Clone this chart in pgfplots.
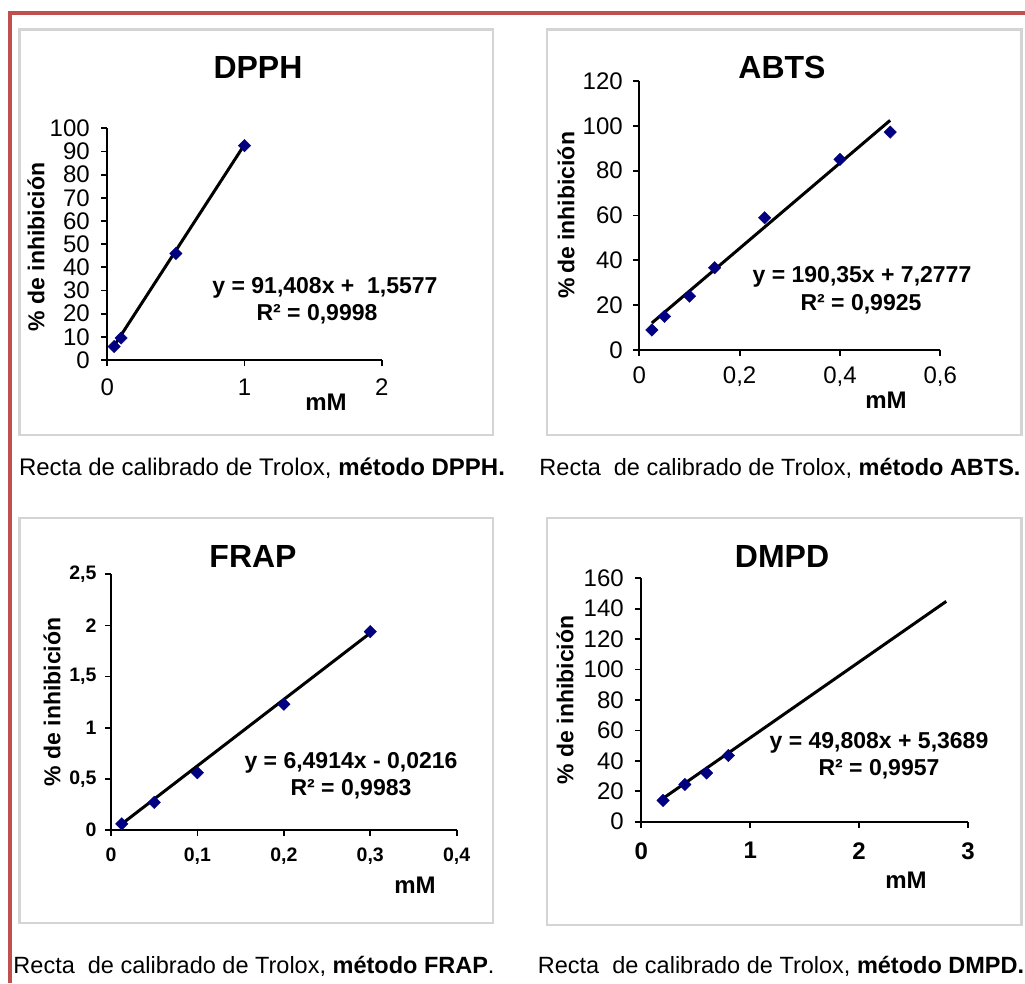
\documentclass[border=0pt]{standalone}
\usepackage{fontspec}
\setmainfont{Liberation Sans}
\usepackage{pgfplots}
\pgfplotsset{compat=1.18}

\definecolor{redframe}{RGB}{192,80,77}
\definecolor{boxgray}{RGB}{212,212,212}
\definecolor{navy}{RGB}{0,0,128}
\newcommand{\fs}[1]{\fontsize{#1}{#1}\selectfont}

\pgfplotsset{
  excel/.style={
    scale only axis, axis lines=left,
    axis line style={-, line width=1.8pt, black},
    tick align=outside, major tick length=6pt,
    tick style={line width=1.8pt, black},
    xmin=0, ymin=0, anchor=south west, clip=false,
    /pgf/number format/assume math mode=true,
    /pgf/number format/use comma,
    /pgf/number format/1000 sep={},
    tick label style={font=\fs{24}, text=black},
  },
  trend/.style={black, line width=3pt, no marks},
  pts/.style={only marks, mark=square*, mark size=4.4pt,
    mark options={rotate=45, fill=navy, draw=navy}},
}

\begin{document}
\begin{tikzpicture}
\path[use as bounding box] (0,0) rectangle (1025pt,-983pt);
% outer red frame
\draw[redframe, line width=4pt] (9.5pt,-983pt) -- (9.5pt,-12.5pt) -- (1025pt,-12.5pt);
% gray chart frames
\draw[boxgray, line width=2.5pt] (19.5pt,-29.3pt) rectangle (493pt,-435pt);
\draw[boxgray, line width=2.5pt] (547pt,-29.3pt) rectangle (1021.3pt,-435pt);
\draw[boxgray, line width=2.5pt] (19.5pt,-518pt) rectangle (493pt,-923pt);
\draw[boxgray, line width=2.5pt] (547pt,-518pt) rectangle (1021.3pt,-925pt);

% ---------------- DPPH ----------------
\begin{axis}[excel, at={(107.3pt,-360pt)}, width=274.4pt, height=231.7pt,
  xmax=2, ymax=100, xtick={0,1,2}, ytick={0,10,20,30,40,50,60,70,80,90,100},
  xticklabel style={yshift=-9pt}, yticklabel style={xshift=-8pt}]
\addplot[trend] coordinates {(0.05,6.13) (1.0,92.97)};
\addplot[pts] coordinates {(0.05,5.8) (0.1,9.5) (0.5,46) (1.0,92.5)};
\end{axis}
\node[font=\bfseries\fs{32}, anchor=base] at (258pt,-78pt) {DPPH};
\node[font=\bfseries\fs{23}, rotate=90] at (36pt,-247pt) {\% de inhibición};
\node[font=\bfseries\fs{23}, anchor=base] at (325pt,-293pt) {y = 91,408x +\ \ 1,5577};
\node[font=\bfseries\fs{23}, anchor=base] at (317pt,-320pt) {R² = 0,9998};
\node[font=\bfseries\fs{24}, anchor=base] at (326pt,-410pt) {mM};
\node[font=\fs{24}, anchor=base] at (262pt,-475pt) {Recta de calibrado de Trolox, \textbf{método DPPH.}};

% ---------------- ABTS ----------------
\begin{axis}[excel, at={(639.3pt,-350pt)}, width=301pt, height=269pt,
  xmax=0.6, ymax=120, xtick={0,0.2,0.4,0.6}, ytick={0,20,40,60,80,100,120},
  xticklabel style={yshift=-7pt}, yticklabel style={xshift=-7pt}]
\addplot[trend] coordinates {(0.025,12.04) (0.5,102.45)};
\addplot[pts] coordinates {(0.025,8.9) (0.05,15) (0.1,24) (0.15,36.7) (0.25,59) (0.4,85) (0.5,97.2)};
\end{axis}
\node[font=\bfseries\fs{32}, anchor=base] at (782pt,-78pt) {ABTS};
\node[font=\bfseries\fs{23}, rotate=90] at (566pt,-215pt) {\%\,de inhibición};
\node[font=\bfseries\fs{23}, anchor=base] at (862pt,-282pt) {y = 190,35x + 7,2777};
\node[font=\bfseries\fs{23}, anchor=base] at (861pt,-310pt) {R² = 0,9925};
\node[font=\bfseries\fs{24}, anchor=base] at (886pt,-408pt) {mM};
\node[font=\fs{23.5}, anchor=base] at (780pt,-475pt) {Recta\ \ de calibrado de Trolox, \textbf{método ABTS.}};

% ---------------- FRAP ----------------
\begin{axis}[excel, at={(111pt,-830pt)}, width=345.7pt, height=255.7pt,
  xmax=0.4, ymax=2.5, xtick={0,0.1,0.2,0.3,0.4}, ytick={0,0.5,1,1.5,2,2.5},
  tick label style={font=\bfseries\fs{19.5}},
  xticklabel style={yshift=-8pt}, yticklabel style={xshift=-5pt}]
\addplot[trend] coordinates {(0.0125,0.0595) (0.3,1.926)};
\addplot[pts] coordinates {(0.0125,0.06) (0.05,0.27) (0.1,0.56) (0.2,1.23) (0.3,1.94)};
\end{axis}
\node[font=\bfseries\fs{32}, anchor=base] at (253pt,-567pt) {FRAP};
\node[font=\bfseries\fs{23}, rotate=90] at (52pt,-702pt) {\% de inhibición};
\node[font=\bfseries\fs{23}, anchor=base] at (351pt,-768pt) {y = 6,4914x - 0,0216};
\node[font=\bfseries\fs{23}, anchor=base] at (351pt,-795pt) {R² = 0,9983};
\node[font=\bfseries\fs{24}, anchor=base] at (415pt,-893pt) {mM};
\node[font=\fs{23.5}, anchor=base] at (254pt,-973pt) {Recta\ \ de calibrado de Trolox, \textbf{método FRAP}.};

% ---------------- DMPD ----------------
\begin{axis}[excel, at={(641.3pt,-821.7pt)}, width=326.7pt, height=243.4pt,
  xmax=3, ymax=160, xtick={0,1,2,3}, ytick={0,20,40,60,80,100,120,140,160},
  xticklabel style={font=\bfseries\fs{24}, yshift=-11pt}, yticklabel style={xshift=-8pt}]
\addplot[trend] coordinates {(0.2,15.33) (2.8,144.83)};
\addplot[pts] coordinates {(0.2,14) (0.4,24.5) (0.6,32) (0.8,43.5)};
\end{axis}
\node[font=\bfseries\fs{32}, anchor=base] at (782pt,-567pt) {DMPD};
\node[font=\bfseries\fs{23}, rotate=90] at (565pt,-700pt) {\% de inhibición};
\node[font=\bfseries\fs{23}, anchor=base] at (879pt,-748pt) {y = 49,808x + 5,3689};
\node[font=\bfseries\fs{23}, anchor=base] at (879pt,-775pt) {R² = 0,9957};
\node[font=\bfseries\fs{24}, anchor=base] at (906pt,-888pt) {mM};
\node[font=\fs{23.5}, anchor=base] at (781pt,-973pt) {Recta\ \ de calibrado de Trolox, \textbf{método DMPD.}};
\end{tikzpicture}
\end{document}
